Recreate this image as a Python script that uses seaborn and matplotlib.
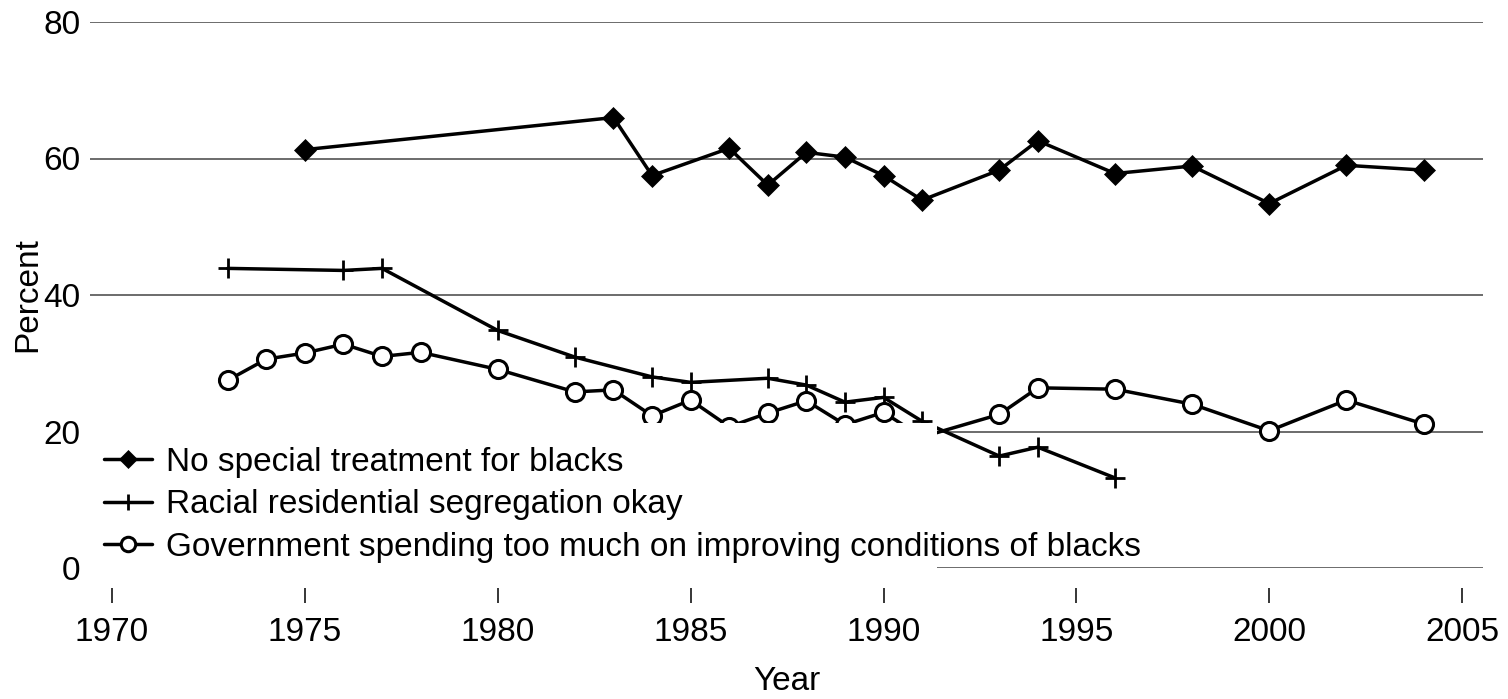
import pandas as pd
import matplotlib.pyplot as plt
import seaborn as sns
from matplotlib.patches import Rectangle

# values
years_treat = [1975, 1983, 1984, 1986, 1987, 1988, 1989, 1990, 1991, 1993, 1994, 1996, 1998, 2000, 2002, 2004]
pct_treat = [61.3, 66.0, 57.5, 61.5, 56.1, 60.9, 60.2, 57.5, 53.9, 58.3, 62.6, 57.8, 58.9, 53.4, 59.0, 58.3]

years_segr = [1973, 1976, 1977, 1980, 1982, 1984, 1985, 1987, 1988, 1989, 1990, 1991, 1993, 1994, 1996]
pct_segr = [43.9, 43.6, 43.9, 34.8, 30.9, 28.0, 27.2, 27.8, 26.8, 24.3, 25.0, 21.5, 16.4, 17.7, 13.2]

years_spend = [1973, 1974, 1975, 1976, 1977, 1978, 1980, 1982, 1983, 1984, 1985, 1986, 1987, 1988,
               1989, 1990, 1991, 1993, 1994, 1996, 1998, 2000, 2002, 2004]
pct_spend = [27.5, 30.6, 31.5, 32.8, 31.0, 31.6, 29.1, 25.8, 26.1, 22.3, 24.6, 20.7, 22.7, 24.5,
             21.0, 22.8, 19.2, 22.5, 26.4, 26.2, 24.0, 20.1, 24.6, 21.1]

labels = ['No special treatment for blacks',
          'Racial residential segregation okay',
          'Government spending too much on improving conditions of blacks']
x_ticks = [1970, 1975, 1980, 1985, 1990, 1995, 2000, 2005]
y_ticks = [0, 20, 40, 60, 80]

sns.set_style('white')
plt.rcParams['font.family'] = ['Liberation Sans', 'DejaVu Sans']

fig = plt.figure(figsize=(15.08, 6.99), dpi=100)
ax = fig.add_axes([90 / 1508, 1 - 568 / 699, 1393 / 1508, 546 / 699])

sns.lineplot(x=years_treat, y=pct_treat, ax=ax, color='black', lw=2.5,
             marker='D', ms=11, mec='black', mew=0.5, label=labels[0])
sns.lineplot(x=years_segr, y=pct_segr, ax=ax, color='black', lw=2.5,
             marker='+', ms=15, mec='black', mew=2, label=labels[1])
sns.lineplot(x=years_spend, y=pct_spend, ax=ax, color='black', lw=2.5,
             marker='o', ms=13, mfc='white', mec='black', mew=2.2, label=labels[2])

ax.set_xlim(1969.43, 2005.54)
ax.set_ylim(0, 80)
ax.set_xticks(x_ticks)
ax.set_yticks(y_ticks)
ax.yaxis.grid(True, color='#444444', lw=1.1)
ax.xaxis.grid(False)
for s in ax.spines.values():
    s.set_visible(False)
ax.spines['bottom'].set_position(('outward', 14.4))
ax.tick_params(axis='y', length=0, pad=7, labelsize=24, labelcolor='black')
ax.tick_params(axis='x', bottom=True, length=11, width=1.1, color='black', pad=10,
               labelsize=24, labelcolor='black')

ax.set_xlabel('Year', fontsize=24, labelpad=13, color='black')
ax.set_ylabel('Percent', fontsize=24, labelpad=0, color='black')

# white legend area that hides the lines behind it
ax.add_patch(Rectangle((0, -0.03), 0.608, 0.2956, transform=ax.transAxes,
                       facecolor='white', edgecolor='none', zorder=3, clip_on=False))

leg = ax.legend(loc='lower left', bbox_to_anchor=(0.01, 0.009), frameon=False,
                fontsize=24, handlelength=1.45, handletextpad=0.4, labelspacing=0.35,
                borderpad=0, borderaxespad=0, markerscale=0.8)
leg.set_zorder(5)
for t in leg.get_texts():
    t.set_color('black')

fig.savefig('out.png', dpi=100)
